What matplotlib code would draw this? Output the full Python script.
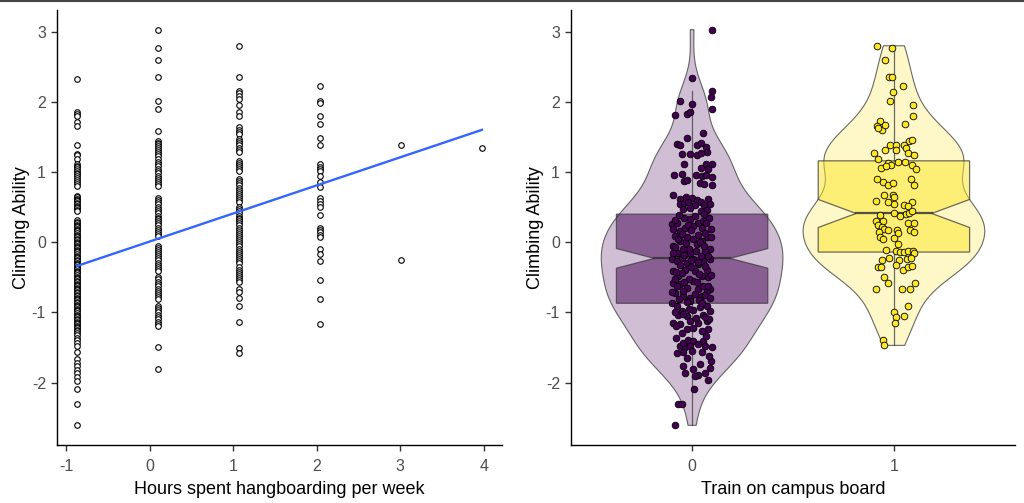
import numpy as np
import matplotlib
matplotlib.use("Agg")
import matplotlib.pyplot as plt
from matplotlib.lines import Line2D

plt.rcParams['font.family'] = ['Liberation Sans', 'DejaVu Sans']
plt.rcParams['axes.unicode_minus'] = False

# ---------------- Left panel data (standardised hours -> ability) ----------------
hours_levels = [-0.87, 0.10, 1.07, 2.04, 3.01, 3.98]
ability_h0 = [2.33, 1.86, 1.83, 1.80, 1.72, 1.65, 1.39, 1.26, 1.24, 1.18, 1.12, 1.09,
              1.07, 1.05, 1.02, 0.99, 0.97, 0.94, 0.91, 0.89, 0.86, 0.83, 0.80,
              0.66, 0.645, 0.62, 0.60, 0.585, 0.56, 0.545, 0.52, 0.50, 0.485, 0.46, 0.44,
              0.31, 0.29, 0.275, 0.25, 0.23, 0.215, 0.19, 0.17, 0.155, 0.13, 0.11, 0.095,
              0.07, 0.05, 0.035, 0.01, -0.01, -0.025, -0.05, -0.07, -0.085, -0.11, -0.13,
              -0.145, -0.17, -0.19, -0.205, -0.23, -0.25, -0.265, -0.29, -0.31, -0.325,
              -0.35, -0.37, -0.385, -0.41, -0.43, -0.445, -0.47, -0.49, -0.505, -0.53,
              -0.55, -0.565, -0.59, -0.61, -0.625, -0.65, -0.67, -0.685, -0.71, -0.73,
              -0.745, -0.77, -0.79, -0.805, -0.83, -0.85, -0.865, -0.89, -0.91, -0.925,
              -0.95, -0.97, -0.985, -1.01, -1.03, -1.045, -1.07, -1.09, -1.105, -1.13,
              -1.15, -1.165, -1.19, -1.21, -1.225, -1.25, -1.27, -1.29,
              -1.32, -1.36, -1.40, -1.44, -1.48, -1.57,
              -1.67, -1.72, -1.77, -1.82, -1.87, -1.92, -1.98, -2.09, -2.30, -2.61]
ability_h1 = [3.03, 2.77, 2.60, 2.35, 2.02, 1.90, 1.59,
              1.45, 1.42, 1.40, 1.37, 1.35, 1.32, 1.29, 1.26, 1.23, 1.19, 1.15, 1.12, 1.09,
              1.04, 1.01, 0.98, 0.95, 0.92, 0.89, 0.86, 0.83, 0.80,
              0.63, 0.60, 0.57, 0.54, 0.50, 0.47, 0.44, 0.41, 0.38, 0.35, 0.33,
              0.30, 0.27, 0.24, 0.21, 0.18, 0.15, 0.12, 0.09,
              -0.05, -0.08, -0.11, -0.14, -0.17, -0.20, -0.23, -0.26, -0.29, -0.32, -0.35,
              -0.38, -0.41, -0.50, -0.53, -0.56, -0.60, -0.63, -0.66, -0.69, -0.72, -0.75,
              -0.78, -0.81, -0.91, -0.94, -0.97, -1.00, -1.03, -1.07, -1.10, -1.13, -1.16,
              -1.20, -1.50, -1.81]
ability_h2 = [2.80, 2.35, 2.16, 2.12, 2.09, 2.04, 1.95, 1.86, 1.80, 1.64, 1.60, 1.57, 1.54,
              1.47, 1.44, 1.41, 1.38, 1.35, 1.32, 1.29, 1.16, 1.13, 1.10, 1.07, 1.04, 1.02,
              0.90, 0.87, 0.84, 0.81, 0.78, 0.75, 0.72, 0.69, 0.66, 0.63, 0.60, 0.57,
              0.50, 0.47, 0.44, 0.41, 0.38, 0.35, 0.33, 0.30, 0.27, 0.24, 0.21, 0.18, 0.15,
              0.12, 0.09, 0.06, 0.03, 0.00, -0.03, -0.06, -0.09, -0.12, -0.15, -0.18, -0.21,
              -0.24, -0.27, -0.29, -0.36, -0.39, -0.42, -0.45, -0.48, -0.51, -0.54, -0.57,
              -0.67, -0.71, -0.79, -0.91, -1.14, -1.51, -1.58]
ability_h3 = [2.22, 2.02, 1.98, 1.80, 1.69, 1.49, 1.39, 1.11, 1.07, 1.04, 1.02, 0.95, 0.86,
              0.79, 0.63, 0.59, 0.55, 0.50, 0.39, 0.21, 0.18, 0.14, 0.10, 0.07, -0.10,
              -0.17, -0.27, -0.54, -0.81, -1.16]
ability_h4 = [1.39, -0.26]
ability_h5 = [1.35]
ability_by_hours = [ability_h0, ability_h1, ability_h2, ability_h3, ability_h4, ability_h5]

# fitted line (lm smooth)
fit_intercept = 0.01
fit_slope = 0.40

# ---------------- Right panel data (campus board group) ----------------
campus_levels = [0, 1]
g0_ability = [3.03, 2.34, 2.15, 2.07, 2.02, 1.97, 1.90, 1.82, 1.83, 1.85, 1.55, 1.49, 1.40, 1.39,
              1.38, 1.41, 1.36, 1.28, 1.26, 1.26, 1.25, 1.27, 1.12, 1.12, 1.11, 1.04, 1.06, 0.96,
              0.97, 0.96, 0.94, 0.96, 0.93, 0.87, 0.89, 0.85, 0.83, 0.81, 0.67, 0.62, 0.64, 0.63,
              0.60, 0.58, 0.62, 0.55, 0.56, 0.58, 0.53, 0.53, 0.54, 0.48, 0.49, 0.44, 0.46,
              0.26, 0.19, 0.28, 0.16, 0.21, 0.33, 0.38, 0.28, 0.30, 0.35, 0.19, 0.21, 0.23, 0.09,
              -0.05, 0.02, -0.10, 0.07, 0.04, -0.03, 0.02, 0.07, -0.10, -0.12, -0.15, -0.15,
              -0.24, -0.27, -0.22, -0.29, -0.24, -0.31, -0.27, -0.24, -0.39, -0.41, -0.39, -0.41,
              -0.48, -0.48, -0.50, -0.58, -0.60, -0.65, -0.55, -0.67, -0.62, -0.67, -0.72, -0.77,
              -0.79, -0.77, -0.70, -0.86, -0.91, -0.98, -0.84, -0.96, -0.93, -0.91, -0.98, -1.03,
              -1.05, -1.03,
              0.35, 0.31, 0.24, 0.12, 0.11, 0.13, 0.05, -0.01, 0.00, -0.07, -0.06, -0.13, -0.18,
              -0.19, -0.20, -0.33, -0.35, -0.34, -0.44, -0.45, -0.46, -0.52, -0.53, -0.57, -0.63,
              -0.62, -0.69, -0.74, -0.75, -0.81, -0.82, -0.80, -0.16, 0.27, 0.17, -0.09, -0.25,
              -0.43, -0.71, -0.86, 0.39, 0.40, 0.08, -0.28, -0.56, -0.85,
              -1.15, -1.17, -1.12, -1.15, -1.12, -1.24, -1.22, -1.24, -1.39, -1.41, -1.48, -1.50,
              -1.48, -1.41, -1.48, -1.49, -1.58, -1.57, -1.55, -1.57, -1.77, -1.74, -1.69, -1.79,
              -1.86, -1.81, -1.89, -1.86, -1.96, -1.91, -2.09, -2.31, -2.30, -2.61,
              -1.00, -1.08, -1.10, -1.02, -0.95, -1.06, -1.19, -1.27, -1.30, -1.33, -1.36, -1.44,
              -1.45, -1.62, -1.65]
g0_jitter = [20, 0, 20, 19, -12, 0, 20, -17, -5, -2, 11, -5, -15, -12,
             5, 9, 14, 15, -10, -2, 5, 9, -8, 14, 20, 16, 9, -18,
             -10, 4, 10, 14, 20, -8, -5, 8, 12, 20, -19, -12, -6, 0,
             5, 9, 16, -12, -8, -4, 3, 12, 18, -9, -2, 9, 15,
             -20, -19, -15, -12, -7, -2, 3, 6, 11, 17, 19, 10, 1, -17,
             -19, -12, -9, -5, 1, 5, 10, 15, 18, 13, -15, -2,
             -20, -15, -10, -5, 1, 6, 11, 18, 15, 3, -7, -19,
             -14, 10, 16, -19, -12, -5, 1, 6, 11, 18, -17, -9,
             -2, 10, 15, -20, -15, -10, -2, 1, 8, 15, 18, -14,
             -5, 11,
             -8, -17, -4, -10, 6, 13, -14, -6, 8, -17, 12, 4, -8,
             9, 16, -12, -1, 13, -10, 7, 19, -3, -17, 5, -15,
             16, -9, 3, 13, -13, 7, 18, -19, 14, -1, -3, -1,
             -16, -20, 10, -13, 12, 19, 6, -8, -5,
             -19, -12, -2, 6, 15, -5, 1, 16, -4, 1, -12, -7,
             -2, 11, 13, 20, -15, -9, 0, 10, -9, 8, 19, 18,
             -7, 1, 6, 13, 16, 3, 2, -14, -10, -17,
             -17, 4, 17, -9, -3, 13, -16, 10, -10, 14, -16, -9,
             6, 17, -5]

g1_ability = [2.80, 2.77, 2.60, 2.35, 2.35, 2.22, 2.14, 2.02, 1.95, 1.80, 1.73, 1.65, 1.60, 1.67,
              1.63, 1.69, 1.45, 1.46, 1.39, 1.38, 1.39, 1.35, 1.32, 1.31, 1.27, 1.27, 1.25, 1.18,
              1.13, 1.10, 1.15, 1.15, 1.10, 1.06, 1.08, 1.05, 0.90, 0.86, 0.82, 0.84, 0.90, 0.82,
              0.67, 0.68, 0.64,
              0.59, 0.55, 0.57, 0.53, 0.57, 0.52, 0.41, 0.39, 0.38, 0.40, 0.41, 0.44, 0.30, 0.30,
              0.25, 0.27, 0.28, 0.22, 0.19, 0.17, 0.17, 0.14, 0.15, 0.18, 0.13, 0.06, 0.07, 0.05,
              -0.03,
              -0.11, -0.13, -0.14, -0.14, -0.12, -0.13, -0.16, -0.25, -0.23, -0.26, -0.24, -0.22,
              -0.36, -0.36, -0.33, -0.40, -0.36, -0.34, -0.49, -0.58, -0.58, -0.67, -0.67, -0.67,
              -0.91, -1.00, -1.07, -1.05, -1.15, -1.40, -1.47]
g1_jitter = [-17, -2, -9, -5, -2, 9, -1, -4, 19, 19, -14, -17, -12, -9,
             -16, 11, 15, 18, -4, 2, 10, 12, -9, 2, -20, 14, 20, -16,
             -6, -3, 4, 11, 18, -13, -8, 22, -17, -11, -6, -1, 17, 20,
             -10, -1, 0,
             -18, 0, -6, 10, 18, 14, 0, -14, 6, 12, 15, 18, -18, -11,
             -16, 14, 20, -12, -10, -6, 16, 20, -15, 3, 4, 0, -14, -11,
             4,
             -8, 2, 6, 10, 14, 19, 20, -12, -5, 5, 13, 17,
             -16, -13, 2, 9, 14, 18, -10, -6, 21, -18, 8, 16,
             14, 0, 2, 10, 1, -11, -10]

# box statistics
box_q1 = [-0.87, -0.14]
box_med = [-0.23, 0.41]
box_q3 = [0.40, 1.16]
notch_lo = [-0.37, 0.21]
notch_hi = [-0.09, 0.61]
whisk_lo = [-2.61, -1.47]
whisk_hi = [2.16, 2.78]

group_colors = ['#440154', '#FDE725']

# ---------------- Figure ----------------
fig = plt.figure(figsize=(10.24, 5.03), dpi=100)
axL = fig.add_axes([57/1024, 58/503, 445/1024, 435/503])
axR = fig.add_axes([571/1024, 58/503, 444/1024, 435/503])

tick_col = '#4D4D4D'
for ax in (axL, axR):
    for s in ('top', 'right'):
        ax.spines[s].set_visible(False)
    for s in ('left', 'bottom'):
        ax.spines[s].set_linewidth(1.0)
        ax.spines[s].set_color('black')
    ax.tick_params(direction='out', length=4, width=1.0, color='#333333',
                   labelsize=11.5, labelcolor=tick_col)
    ax.tick_params(axis='x', pad=6)
    ax.tick_params(axis='y', pad=4)
    ax.set_ylim(-2.89, 3.31)
    ax.set_yticks([-2, -1, 0, 1, 2, 3])
    ax.set_ylabel('Climbing Ability', fontsize=13, color='black', labelpad=1)

# Left scatter
for hx, vals in zip(hours_levels, ability_by_hours):
    axL.plot([hx] * len(vals), vals, linestyle='none', marker='o', markersize=4.0,
             markerfacecolor='white', markeredgecolor='black', markeredgewidth=0.8, zorder=2)
xs = np.array([hours_levels[0], hours_levels[-1]])
axL.plot(xs, fit_intercept + fit_slope * xs, color='#3366FF', lw=1.7, zorder=3)
axL.set_xlim(-1.11, 4.22)
axL.set_xticks([-1, 0, 1, 2, 3, 4])
axL.set_xlabel('Hours spent hangboarding per week', fontsize=13, color='black', labelpad=5)

# Right: violins + notched boxes + jitter
def kde_nrd0(data, grid, adjust=0.85):
    d = np.asarray(data)
    n = len(d)
    sd = d.std(ddof=1)
    iqr = np.subtract(*np.percentile(d, [75, 25]))
    lo = min(sd, iqr / 1.34)
    bw = adjust * 0.9 * lo * n ** (-0.2)
    z = (grid[:, None] - d[None, :]) / bw
    return np.exp(-0.5 * z ** 2).sum(axis=1) / (n * bw * np.sqrt(2 * np.pi))

groups_ab = [g0_ability, g1_ability]
groups_jit = [g0_jitter, g1_jitter]
edge_col = '#3a3a3a'
for i, pos in enumerate(campus_levels):
    data = np.array(groups_ab[i])
    grid = np.linspace(data.min(), data.max(), 512)
    dens = kde_nrd0(data, grid)
    hw = 0.45 * dens / dens.max()
    px = np.concatenate([pos - hw, (pos + hw)[::-1]])
    py = np.concatenate([grid, grid[::-1]])
    axR.fill(px, py, facecolor=group_colors[i], alpha=0.25, edgecolor='none', zorder=1)
    axR.fill(px, py, facecolor='none', edgecolor=edge_col, alpha=0.75, lw=0.8, zorder=1.1)

    w = 0.75 / 2
    nw = w * 0.5
    bx = [pos - w, pos - w, pos - nw, pos - w, pos - w, pos + w, pos + w, pos + nw, pos + w, pos + w]
    by = [box_q1[i], notch_lo[i], box_med[i], notch_hi[i], box_q3[i], box_q3[i], notch_hi[i],
          box_med[i], notch_lo[i], box_q1[i]]
    axR.fill(bx, by, facecolor=group_colors[i], alpha=0.5, edgecolor='none', zorder=2)
    axR.fill(bx, by, facecolor='none', edgecolor=edge_col, alpha=0.75, lw=0.9, zorder=2.1)
    axR.plot([pos - nw, pos + nw], [box_med[i], box_med[i]], color='#333333', lw=1.6, alpha=0.85, zorder=2.2)
    axR.plot([pos, pos], [box_q3[i], whisk_hi[i]], color=edge_col, lw=0.9, alpha=0.75, zorder=2.1)
    axR.plot([pos, pos], [box_q1[i], whisk_lo[i]], color=edge_col, lw=0.9, alpha=0.75, zorder=2.1)

    jx = pos + np.array(groups_jit[i]) / 201.0
    axR.plot(jx, data, linestyle='none', marker='o', markersize=4.8,
             markerfacecolor=group_colors[i], markeredgecolor='black', markeredgewidth=0.6, zorder=3)

axR.set_xlim(-0.6, 1.6)
axR.set_xticks(campus_levels)
axR.set_xticklabels([str(c) for c in campus_levels])
axR.set_xlabel('Train on campus board', fontsize=13, color='black', labelpad=5)

# screenshot frame line at top
fig.add_artist(Line2D([0, 1], [0.999, 0.999], transform=fig.transFigure, color='#444444', lw=1.5))

fig.savefig('out.png', dpi=100)
